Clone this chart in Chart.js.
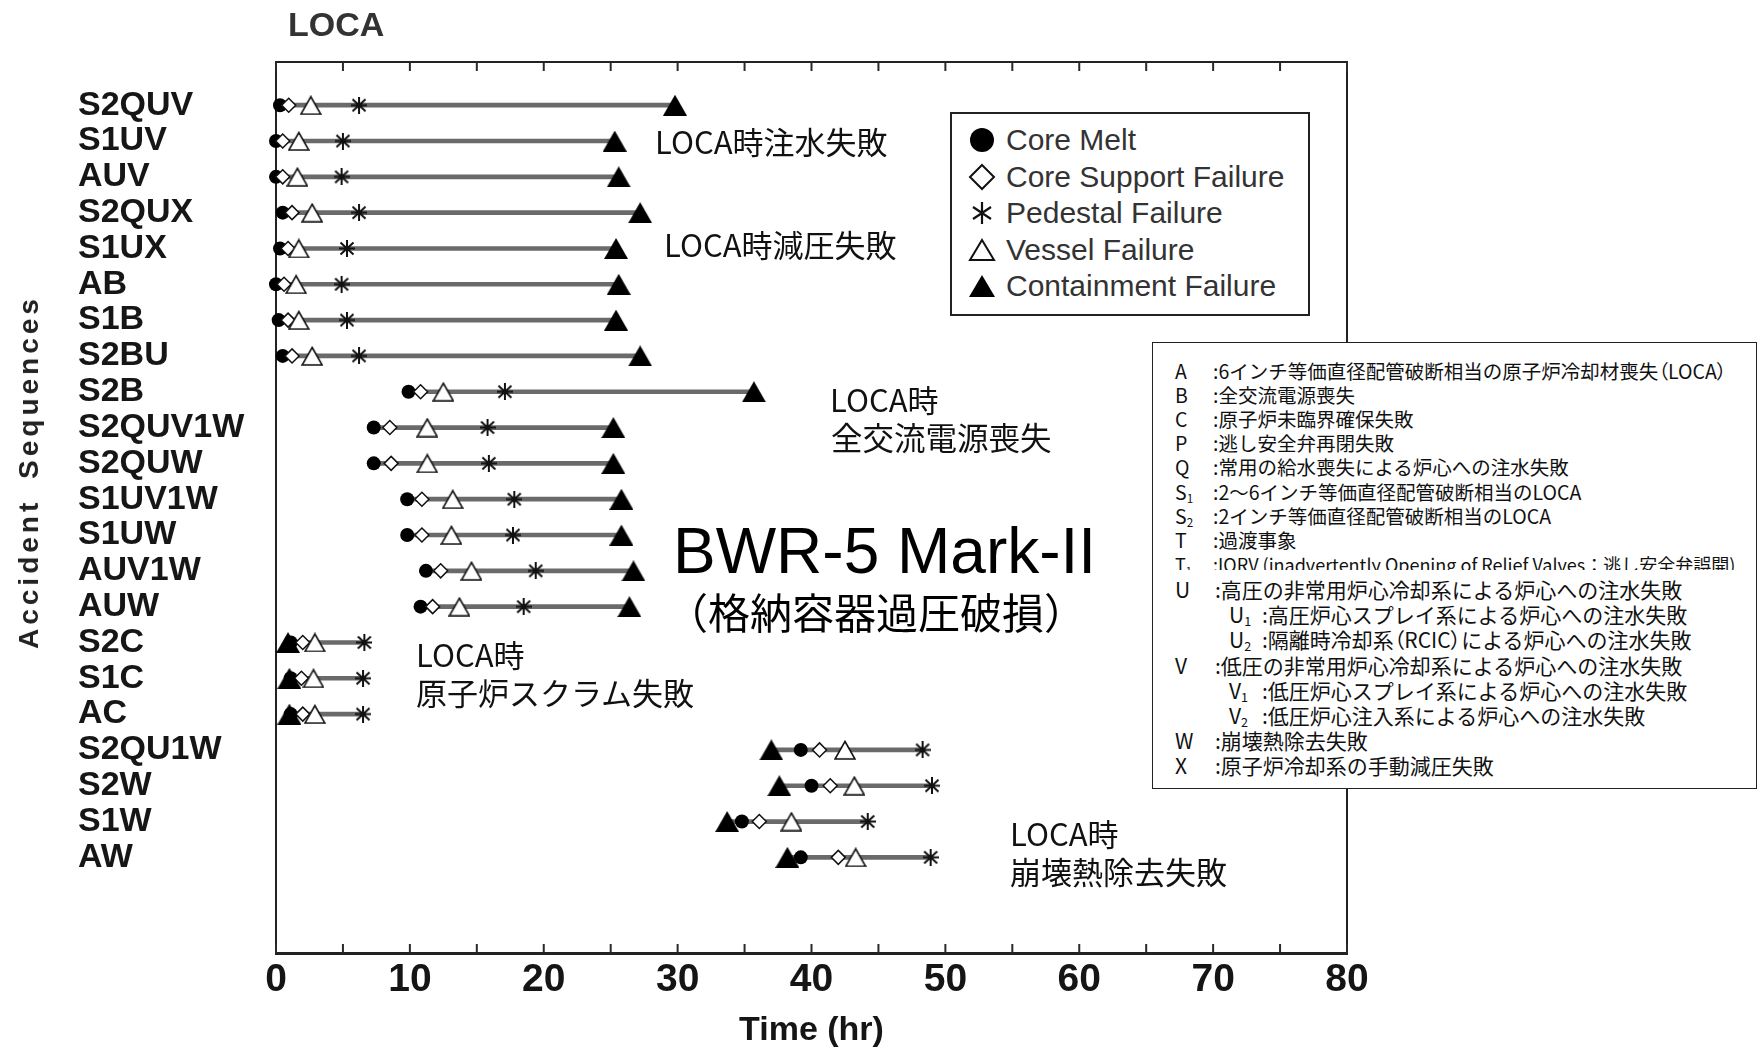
<!DOCTYPE html>
<html>
<head>
<meta charset="utf-8">
<script src="https://cdn.jsdelivr.net/npm/chart.js@4.4.1/dist/chart.umd.min.js"></script>
<style>
  html, body { margin: 0; padding: 0; background: #fff; }
  #wrap { position: relative; width: 1763px; height: 1051px; overflow: hidden; }
  #chart { position: absolute; left: 0; top: 0; }
  .t { position: absolute; white-space: nowrap; line-height: 1.2; transform: translateY(-50%); color: #111; }
  .jp { font-family: "Noto Sans CJK JP", sans-serif; }
  .ar { font-family: "Liberation Sans", Arial, sans-serif; }
  #ytitle { position: absolute; left: 29px; top: 472px; transform: translate(-50%, -50%) rotate(-90deg);
    font: bold 28px "Liberation Sans", Arial, sans-serif; letter-spacing: 4px; word-spacing: 8px; color: #222; white-space: nowrap; }
  #legend { position: absolute; left: 950px; top: 112px; width: 360px; height: 204px; box-sizing: border-box;
    border: 2px solid #222; background: #fff; padding-top: 8px; }
  #legend .row { height: 36.5px; display: flex; align-items: center; font: 30px "Liberation Sans", Arial, sans-serif; color: #333; }
  #legend svg { width: 28px; height: 28px; margin-left: 16px; margin-right: 10px; }
  #defs { position: absolute; left: 1152px; top: 342px; width: 605px; height: 447px; box-sizing: border-box;
    border: 1.5px solid #222; background: #fff; font-family: "Noto Sans CJK JP", sans-serif; color: #111; }
  #defs .l { position: absolute; left: 0; width: 600px; height: 1em; line-height: 1; white-space: nowrap; transform: translateY(-50%); }
  #defs .k { position: absolute; top: 0; line-height: 1; }
  #defs sub { font-size: 60%; vertical-align: -3px; line-height: 0; }
  #defs .clip { overflow: hidden; transform: none; }
  #defs .p { font-feature-settings: "palt"; }
</style>
</head>
<body>
<div id="wrap">
  <canvas id="chart" width="1763" height="1051"></canvas>
  <div class="t ar" style="left:288px;top:24px;font-weight:bold;font-size:34px;color:#333;">LOCA</div>
  <div id="ytitle">Accident Sequences</div>

  <div class="t jp" style="left:655px;top:141px;font-size:31px;">LOCA時注水失敗</div>
  <div class="t jp" style="left:664px;top:244px;font-size:31px;">LOCA時減圧失敗</div>
  <div class="t jp" style="left:830px;top:399px;font-size:31px;">LOCA時</div>
  <div class="t jp" style="left:831px;top:437px;font-size:31.5px;">全交流電源喪失</div>
  <div class="t jp" style="left:416px;top:654px;font-size:31px;">LOCA時</div>
  <div class="t jp" style="left:416px;top:692px;font-size:31px;">原子炉スクラム失敗</div>
  <div class="t jp" style="left:1010px;top:833px;font-size:31px;">LOCA時</div>
  <div class="t jp" style="left:1010px;top:871px;font-size:31px;">崩壊熱除去失敗</div>
  <div class="t ar" style="left:673px;top:551px;font-size:64px;color:#000;">BWR-5 Mark-II</div>
  <div class="t jp" style="left:666px;top:611px;font-size:42px;color:#000;">（格納容器過圧破損）</div>

  <div id="legend"></div>
  <div id="defs"></div>
</div>

<script>
const categories = ["S2QUV", "S1UV", "AUV", "S2QUX", "S1UX", "AB", "S1B", "S2BU", "S2B",
  "S2QUV1W", "S2QUW", "S1UV1W", "S1UW", "AUV1W", "AUW", "S2C", "S1C", "AC",
  "S2QU1W", "S2W", "S1W", "AW"];

// hours, one value per sequence
const coreMelt    = [0.3, 0.0, 0.0, 0.5, 0.3, 0.0, 0.2, 0.5, 9.9, 7.3, 7.3, 9.8, 9.8, 11.2, 10.8, 1.1, 1.1, 1.1, 39.2, 40.0, 34.8, 39.2];
const coreSupport = [0.95, 0.5, 0.5, 1.2, 0.9, 0.6, 0.9, 1.2, 10.8, 8.5, 8.6, 10.9, 10.9, 12.3, 11.7, 2.0, 1.9, 2.0, 40.6, 41.4, 36.1, 42.0];
const pedestal    = [6.2, 5.0, 4.9, 6.2, 5.3, 4.9, 5.3, 6.2, 17.1, 15.8, 15.9, 17.8, 17.7, 19.4, 18.5, 6.6, 6.5, 6.5, 48.3, 49.0, 44.2, 48.9];
const vessel      = [2.6, 1.7, 1.6, 2.7, 1.7, 1.5, 1.7, 2.7, 12.5, 11.3, 11.3, 13.2, 13.1, 14.6, 13.7, 2.9, 2.8, 2.9, 42.5, 43.2, 38.5, 43.3];
const containment = [29.8, 25.3, 25.6, 27.2, 25.4, 25.6, 25.4, 27.2, 35.7, 25.2, 25.2, 25.8, 25.8, 26.7, 26.4, 0.9, 1.0, 1.0, 37.0, 37.6, 33.7, 38.2];

const xMax = 80;
const xStep = 5;
const legendLabels = ["Core Melt", "Core Support Failure", "Pedestal Failure", "Vessel Failure", "Containment Failure"];

const defsTop = [
  ["A", "6インチ等価直径配管破断相当の原子炉冷却材喪失<span class=\"p\">（LOCA）</span>"],
  ["B", "全交流電源喪失"],
  ["C", "原子炉未臨界確保失敗"],
  ["P", "逃し安全弁再閉失敗"],
  ["Q", "常用の給水喪失による炉心への注水失敗"],
  ["S<sub>1</sub>", "2～6インチ等価直径配管破断相当のLOCA"],
  ["S<sub>2</sub>", "2インチ等価直径配管破断相当のLOCA"],
  ["T", "過渡事象"],
  ["T<sub>1</sub>", "IORV (inadvertently Opening of Relief Valves：逃し安全弁誤開)"]
];
const defsBottom = [
  ["U", "高圧の非常用炉心冷却系による炉心への注水失敗", 0],
  ["U<sub>1</sub>", "高圧炉心スプレイ系による炉心への注水失敗", 1],
  ["U<sub>2</sub>", "隔離時冷却系<span class=\"p\">（RCIC）</span>による炉心への注水失敗", 1],
  ["V", "低圧の非常用炉心冷却系による炉心への注水失敗", 0],
  ["V<sub>1</sub>", "低圧炉心スプレイ系による炉心への注水失敗", 1],
  ["V<sub>2</sub>", "低圧炉心注入系による炉心への注水失敗", 1],
  ["W", "崩壊熱除去失敗", 0],
  ["X", "原子炉冷却系の手動減圧失敗", 0]
];

// marker images
function marker(w, h, draw) {
  const c = document.createElement("canvas");
  c.width = w; c.height = h;
  draw(c.getContext("2d"), w, h);
  return c;
}
const triFilled = marker(24, 21, (g, w, h) => {
  g.fillStyle = "#000";
  g.beginPath(); g.moveTo(w / 2, 0); g.lineTo(w, h); g.lineTo(0, h); g.closePath(); g.fill();
});
const triOpen = marker(22, 20, (g, w, h) => {
  g.fillStyle = "#fff"; g.strokeStyle = "#111"; g.lineWidth = 1.6;
  g.beginPath(); g.moveTo(w / 2, 1.5); g.lineTo(w - 1, h - 1); g.lineTo(1, h - 1); g.closePath();
  g.fill(); g.stroke();
});
const aster = marker(16, 17, (g, w, h) => {
  g.strokeStyle = "#111"; g.lineWidth = 2;
  g.beginPath();
  g.moveTo(w / 2, 0); g.lineTo(w / 2, h);
  g.moveTo(1.5, 2.5); g.lineTo(w - 1.5, h - 2.5);
  g.moveTo(w - 1.5, 2.5); g.lineTo(1.5, h - 2.5);
  g.moveTo(0, h / 2); g.lineTo(w, h / 2);
  g.stroke();
});

const pts = arr => arr.map((v, i) => ({ x: v, y: i }));
const spans = categories.map((_, i) => {
  const vals = [coreMelt[i], coreSupport[i], pedestal[i], vessel[i], containment[i]];
  return { x: [Math.min(...vals), Math.max(...vals)], y: i };
});

// inward tick marks on the top and bottom frame, at the x scale's own ticks
const frameTicks = {
  id: "frameTicks",
  afterDatasetsDraw(chart) {
    const { ctx, chartArea: a, scales: { x } } = chart;
    ctx.save();
    ctx.strokeStyle = "#2a2a2a";
    ctx.lineWidth = 2;
    ctx.beginPath();
    x.ticks.forEach(t => {
      const px = x.getPixelForValue(t.value);
      ctx.moveTo(px, a.bottom); ctx.lineTo(px, a.bottom - 9);
      ctx.moveTo(px, a.top); ctx.lineTo(px, a.top + 9);
    });
    ctx.stroke();
    ctx.restore();
  }
};

const axisFont = { family: '"Liberation Sans", Arial, sans-serif', weight: "bold" };

new Chart(document.getElementById("chart"), {
  type: "scatter",
  data: {
    datasets: [
      { label: legendLabels[4], data: pts(containment), pointStyle: triFilled, pointRadius: 10, clip: false },
      { label: legendLabels[3], data: pts(vessel), pointStyle: triOpen, pointRadius: 10, clip: false },
      { label: legendLabels[2], data: pts(pedestal), pointStyle: aster, pointRadius: 8, clip: false },
      { label: legendLabels[1], data: pts(coreSupport), pointStyle: "rectRot", pointRadius: 7,
        backgroundColor: "#fff", borderColor: "#111", borderWidth: 1.5, clip: false },
      { label: legendLabels[0], data: pts(coreMelt), pointStyle: "circle", pointRadius: 7,
        backgroundColor: "#000", borderColor: "#000", borderWidth: 0, clip: false },
      { type: "bar", indexAxis: "y", data: spans, backgroundColor: "#6a6a6a", barThickness: 4, borderWidth: 0 }
    ]
  },
  options: {
    responsive: false,
    animation: false,
    layout: { padding: { left: 78, right: 416, top: 62, bottom: 0 } },
    plugins: { legend: { display: false }, tooltip: { enabled: false } },
    scales: {
      x: {
        type: "linear", position: "bottom", min: 0, max: xMax,
        ticks: { stepSize: xStep, autoSkip: false, maxRotation: 0, padding: 4, color: "#151515",
          font: { ...axisFont, size: 39 }, callback: v => (v % 10 === 0 ? String(v) : "") },
        grid: { display: false, drawTicks: false },
        border: { display: true, color: "#222", width: 3 },
        title: { display: true, text: "Time (hr)", color: "#151515", padding: 0, font: { ...axisFont, size: 34 } },
        afterFit: s => { s.height = 98; }
      },
      x2: {
        type: "linear", position: "top", min: 0, max: xMax,
        ticks: { display: false },
        grid: { display: false },
        border: { display: true, color: "#222", width: 2 },
        afterFit: s => { s.height = 0; }
      },
      y: {
        type: "linear", reverse: true, min: -1.206, max: 23.67, offset: false,
        afterBuildTicks: s => { s.ticks = categories.map((_, i) => ({ value: i })); },
        ticks: { autoSkip: false, crossAlign: "far", color: "#161616", font: { ...axisFont, size: 34 },
          callback: v => categories[v] },
        grid: { display: false, offset: false },
        border: { display: true, color: "#222", width: 2 },
        afterFit: s => { s.width = 198; }
      },
      y2: {
        type: "linear", position: "right",
        ticks: { display: false },
        grid: { display: false },
        border: { display: true, color: "#222", width: 2 },
        afterFit: s => { s.width = 0; }
      }
    }
  },
  plugins: [frameTicks]
});

// legend box
const legendIcons = [
  '<svg viewBox="0 0 28 28"><circle cx="14" cy="14" r="12" fill="#000"/></svg>',
  '<svg viewBox="0 0 28 28"><path d="M14 2 L26 14 L14 26 L2 14 Z" fill="#fff" stroke="#111" stroke-width="2"/></svg>',
  '<svg viewBox="0 0 28 28"><path d="M14 3 V25 M5 8 L23 20 M23 8 L5 20" stroke="#111" stroke-width="2.2"/></svg>',
  '<svg viewBox="0 0 28 28"><path d="M14 4 L26 24 L2 24 Z" fill="#fff" stroke="#111" stroke-width="2"/></svg>',
  '<svg viewBox="0 0 28 28"><path d="M14 3 L27 25 L1 25 Z" fill="#000"/></svg>'
];
document.getElementById("legend").innerHTML = legendLabels.map((t, i) =>
  `<div class="row">${legendIcons[i]}<span>${t}</span></div>`).join("");

// abbreviation box
let html = "";
defsTop.forEach(([k, t], i) => {
  const y = 28 + i * 24.1;
  const inner = `<span class="k" style="left:22px;">${k}</span><span class="k" style="left:60px;">:${t}</span>`;
  if (i === defsTop.length - 1) {
    // last line is cut off in the original figure
    html += `<div class="l clip" style="top:${y - 9}px;height:15px;font-size:18px;">${inner}</div>`;
  } else {
    html += `<div class="l" style="top:${y}px;font-size:19.5px;">${inner}</div>`;
  }
});
defsBottom.forEach(([k, t, sub], i) => {
  const y = 246 + i * 25.2;
  const kx = sub ? 76 : 22, tx = sub ? 109 : 62;
  html += `<div class="l" style="top:${y}px;font-size:21px;"><span class="k" style="left:${kx}px;">${k}</span><span class="k" style="left:${tx}px;">:${t}</span></div>`;
});
document.getElementById("defs").innerHTML = html;
</script>
</body>
</html>
